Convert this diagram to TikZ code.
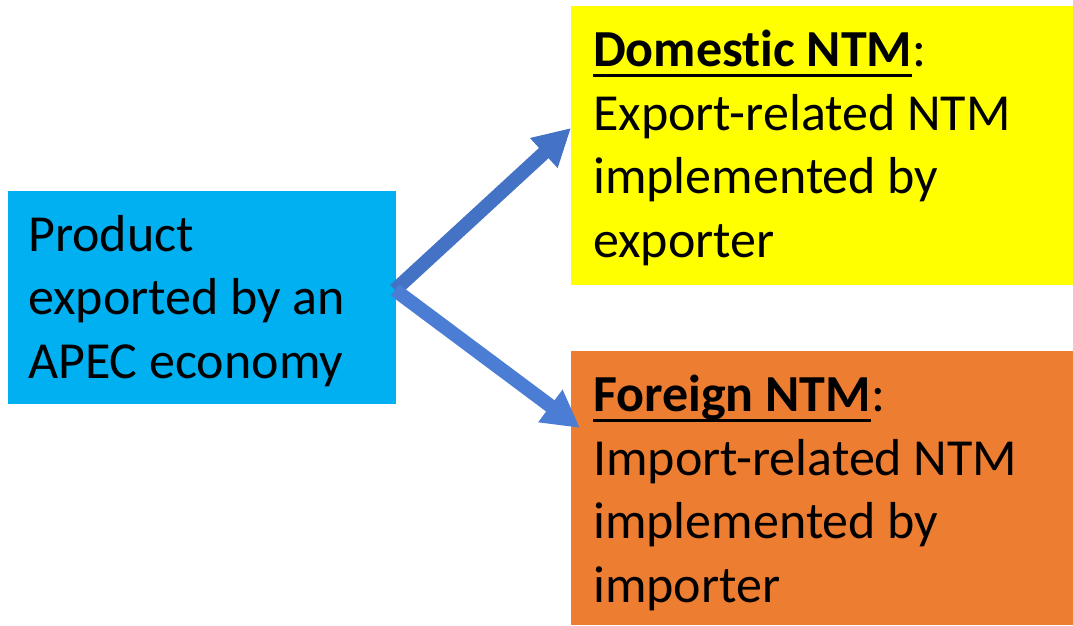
\documentclass[tikz,border=0pt]{standalone}
\usepackage{fontspec}
\setmainfont{Carlito}[Ligatures = NoCommon]
\usetikzlibrary{arrows.meta}
\definecolor{niceblue}{RGB}{0, 176, 240}
\definecolor{niceyellow}{RGB}{255, 255, 0}
\definecolor{niceorange}{RGB}{237, 125, 49}
\definecolor{arrowblue}{RGB}{68, 114, 196}
\definecolor{arrowblueL}{RGB}{76, 125, 212}
\newcommand{\ulbf}[1]{\setbox0\hbox{\bfseries #1}\rlap{\rule[-10pt]{\wd0}{3pt}}\box0}
\tikzset{box/.style = {rectangle, inner sep = 0pt, anchor = north west},
	boxtext/.style = {anchor = base west, align = left, inner sep = 0pt, font = \fontsize{52}{63.5}\selectfont},
	thickarrow/.style = {line width = 14pt, -{Triangle[width = 38pt, length = 37pt]}}}
\begin{document}
\begin{tikzpicture}[x = 1pt, y = -1pt]
			\useasboundingbox (0,0) rectangle (1073,625);
			\node (prod) at (8,191) [box, fill = niceblue, minimum width = 388pt, minimum height = 213pt] {};
			\node (dom) at (571,6) [box, fill = niceyellow, minimum width = 502pt, minimum height = 279pt] {};
			\node (forn) at (571,351) [box, fill = niceorange, minimum width = 502pt, minimum height = 274pt] {};
			\node (prodtxt) at (28,378) [boxtext] {Product\\exported by an\\APEC economy};
			\node (domtxt) at (593,257) [boxtext] {\ulbf{Domestic NTM}:\\Export-related NTM\\implemented by\\exporter};
			\node (forntxt) at (593,602) [boxtext] {\ulbf{Foreign NTM}:\\Import-related NTM\\implemented by\\importer};
			\coordinate (src) at (395,290);
			\coordinate (domin) at (571,128);
			\coordinate (fornin) at (580,428);
			\draw[thickarrow, arrowblue] (src) -- (domin);
			\draw[thickarrow, arrowblueL] (src) -- (fornin);
			\end{tikzpicture}
\end{document}
